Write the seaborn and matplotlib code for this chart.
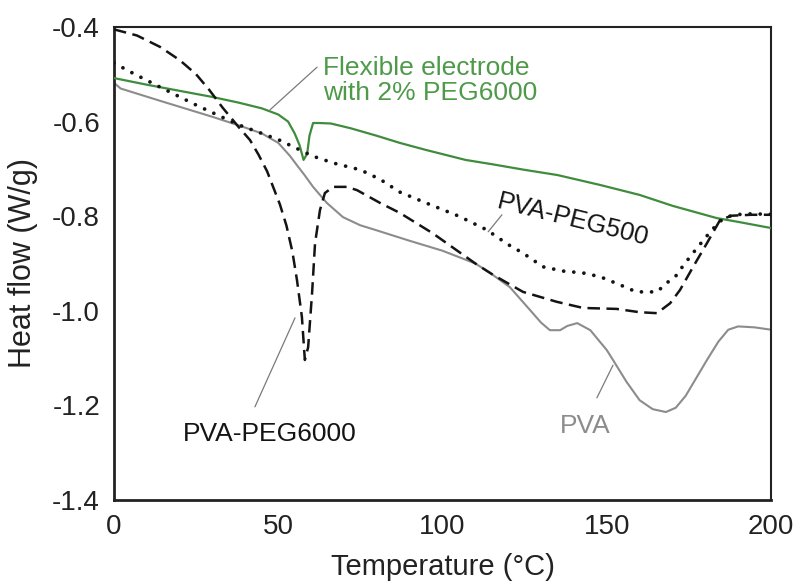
import numpy as np
import pandas as pd
import matplotlib
matplotlib.use("Agg")
import matplotlib.pyplot as plt
import seaborn as sns
from matplotlib.ticker import MultipleLocator, FormatStrFormatter

# ---------------- data ----------------
pva_T = [0, 2, 14, 30, 38, 45, 50, 53.5, 56, 58, 60.6, 64.8, 69.7, 74.9, 80, 90, 100, 110,
         114.5, 120.5, 126.6, 130, 132.7, 135.8, 138, 141, 145, 150, 152, 156, 160, 164, 168,
         171, 174, 177, 180.5, 184, 187, 190, 195, 200]
pva_v = [-0.518, -0.530, -0.556, -0.590, -0.608, -0.625, -0.645, -0.672, -0.695, -0.713, -0.738,
         -0.772, -0.802, -0.819, -0.830, -0.852, -0.873, -0.900, -0.920, -0.950, -0.998, -1.025,
         -1.041, -1.041, -1.032, -1.026, -1.041, -1.083, -1.105, -1.150, -1.189, -1.208, -1.214,
         -1.205, -1.180, -1.145, -1.104, -1.065, -1.040, -1.033, -1.035, -1.040]

flex_T = [0, 10, 20, 30, 38, 45, 50, 53, 55, 56.5, 57.7, 58.8, 59.5, 60.6, 62.5, 66, 72, 80,
          87, 95, 107, 115, 125, 135, 148, 160, 170, 183.5, 190, 200]
flex_v = [-0.508, -0.522, -0.535, -0.548, -0.560, -0.572, -0.585, -0.600, -0.625, -0.650,
          -0.681, -0.668, -0.630, -0.603, -0.603, -0.604, -0.614, -0.630, -0.645, -0.660,
          -0.681, -0.690, -0.702, -0.713, -0.734, -0.755, -0.778, -0.804, -0.812, -0.825]

peg500_T = [0, 5, 14, 25, 38, 45, 50, 56.6, 60.5, 67, 75, 81, 87, 95, 105, 113.5, 120, 124.5,
            130.6, 136.7, 142.8, 148, 154, 159, 165.3, 168.3, 171.4, 173.2, 177.5, 182, 185,
            188.4, 194, 200]
peg500_v = [-0.476, -0.495, -0.527, -0.565, -0.607, -0.625, -0.638, -0.660, -0.673, -0.688,
            -0.702, -0.722, -0.749, -0.772, -0.800, -0.829, -0.860, -0.878, -0.907, -0.916,
            -0.920, -0.928, -0.945, -0.960, -0.960, -0.941, -0.924, -0.905, -0.867, -0.829,
            -0.808, -0.797, -0.795, -0.796]

peg6000_T = [0, 7, 14, 20, 25, 29, 33, 38, 41.4, 44, 46.6, 50.5, 52.5, 54.3, 55.7, 57.2, 58.1,
             59.1, 60.3, 61.2, 62.7, 64.2, 66.7, 70.9, 74, 81, 87, 97, 110, 115.4, 124.5,
             134.8, 142.8, 153, 160, 165.3, 169.3, 172.3, 176.3, 180.5, 184.5, 188, 194, 200]
peg6000_v = [-0.405, -0.418, -0.442, -0.470, -0.500, -0.533, -0.570, -0.612, -0.639, -0.670,
             -0.705, -0.775, -0.820, -0.875, -0.935, -1.013, -1.104, -1.077, -0.962, -0.857,
             -0.787, -0.751, -0.738, -0.738, -0.745, -0.772, -0.793, -0.836, -0.900, -0.924,
             -0.960, -0.981, -0.994, -0.996, -1.003, -1.005, -0.984, -0.956, -0.907, -0.857,
             -0.808, -0.799, -0.797, -0.797]

x_ticks = [0, 50, 100, 150, 200]
y_ticks = [-1.4, -1.2, -1.0, -0.8, -0.6, -0.4]

# ---------------- style ----------------
sns.set_theme(style="white")
plt.rcParams["font.family"] = ["Liberation Sans", "DejaVu Sans"]
plt.rcParams["axes.unicode_minus"] = False

GREEN_LINE = "#3f8c3c"
GREEN_TEXT = "#4e9a49"
GREY = "#8c8c8c"
DARK = "#141414"

fig = plt.figure(figsize=(7.98, 5.83), dpi=100)
ax = fig.add_axes([114 / 798, 1 - 500 / 583, (771 - 114) / 798, (500 - 27) / 583])

def frame(T, v):
    return pd.DataFrame({"T": T, "v": v})

sns.lineplot(data=frame(pva_T, pva_v), x="T", y="v", sort=False, ax=ax,
             color=GREY, linewidth=1.5, zorder=2)
sns.lineplot(data=frame(flex_T, flex_v), x="T", y="v", sort=False, ax=ax,
             color=GREEN_LINE, linewidth=1.6, zorder=3)
sns.lineplot(data=frame(peg6000_T, peg6000_v), x="T", y="v", sort=False, ax=ax,
             color=DARK, linewidth=1.8, linestyle=(0, (5.0, 2.6)), zorder=4)
sns.lineplot(data=frame(peg500_T, peg500_v), x="T", y="v", sort=False, ax=ax,
             color=DARK, linewidth=2.7, linestyle=(0, (0.01, 2.7)),
             dash_capstyle="round", zorder=5)

ax.set_xlim(0, 200)
ax.set_ylim(-1.4, -0.4)
ax.set_xticks(x_ticks)
ax.set_yticks(y_ticks)
ax.xaxis.set_minor_locator(MultipleLocator(25))
ax.yaxis.set_minor_locator(MultipleLocator(0.1))
ax.yaxis.set_major_formatter(FormatStrFormatter("%.1f"))

ax.tick_params(axis="both", which="major", direction="in", length=12, width=1.5,
               labelsize=20, pad=10, colors="#222222", labelcolor="#222222")
ax.tick_params(axis="both", which="minor", direction="in", length=7, width=1.5,
               colors="#222222")
ax.tick_params(top=False, right=False, which="both")

for side in ["left", "bottom"]:
    ax.spines[side].set_linewidth(2.0)
    ax.spines[side].set_color("#222222")
for side in ["top", "right"]:
    ax.spines[side].set_linewidth(1.5)
    ax.spines[side].set_color("#222222")

ax.set_xlabel("Temperature (°C)", fontsize=21, color="#222222")
ax.set_ylabel("Heat flow (W/g)", fontsize=22, color="#222222")
ax.xaxis.set_label_coords(0.5, -0.113)
ax.yaxis.set_label_coords(-0.115, 0.5)

# ---------------- labels with leader lines ----------------
lead = dict(arrowstyle="-", color="#7a7a7a", linewidth=0.9, shrinkA=0, shrinkB=0)

ax.annotate("", xy=(47.5, -0.575), xytext=(61.8, -0.485), arrowprops=lead)
ax.text(63.6, -0.461, "Flexible electrode\nwith 2% PEG6000", fontsize=19,
        color=GREEN_TEXT, ha="left", va="top", linespacing=1.05)

ax.annotate("", xy=(113.9, -0.833), xytext=(118.1, -0.797), arrowprops=lead)
ax.text(116.0, -0.792, "PVA-PEG500", fontsize=18.5, color=DARK, ha="left",
        va="bottom", rotation=-14, rotation_mode="anchor")

ax.annotate("", xy=(55.1, -1.015), xytext=(42.9, -1.203), arrowprops=lead)
ax.text(47.3, -1.26, "PVA-PEG6000", fontsize=19, color=DARK, ha="center", va="center")

ax.annotate("", xy=(151.9, -1.115), xytext=(147.0, -1.184), arrowprops=lead)
ax.text(143.5, -1.244, "PVA", fontsize=19, color=GREY, ha="center", va="center")

fig.savefig("out.png", dpi=100)
